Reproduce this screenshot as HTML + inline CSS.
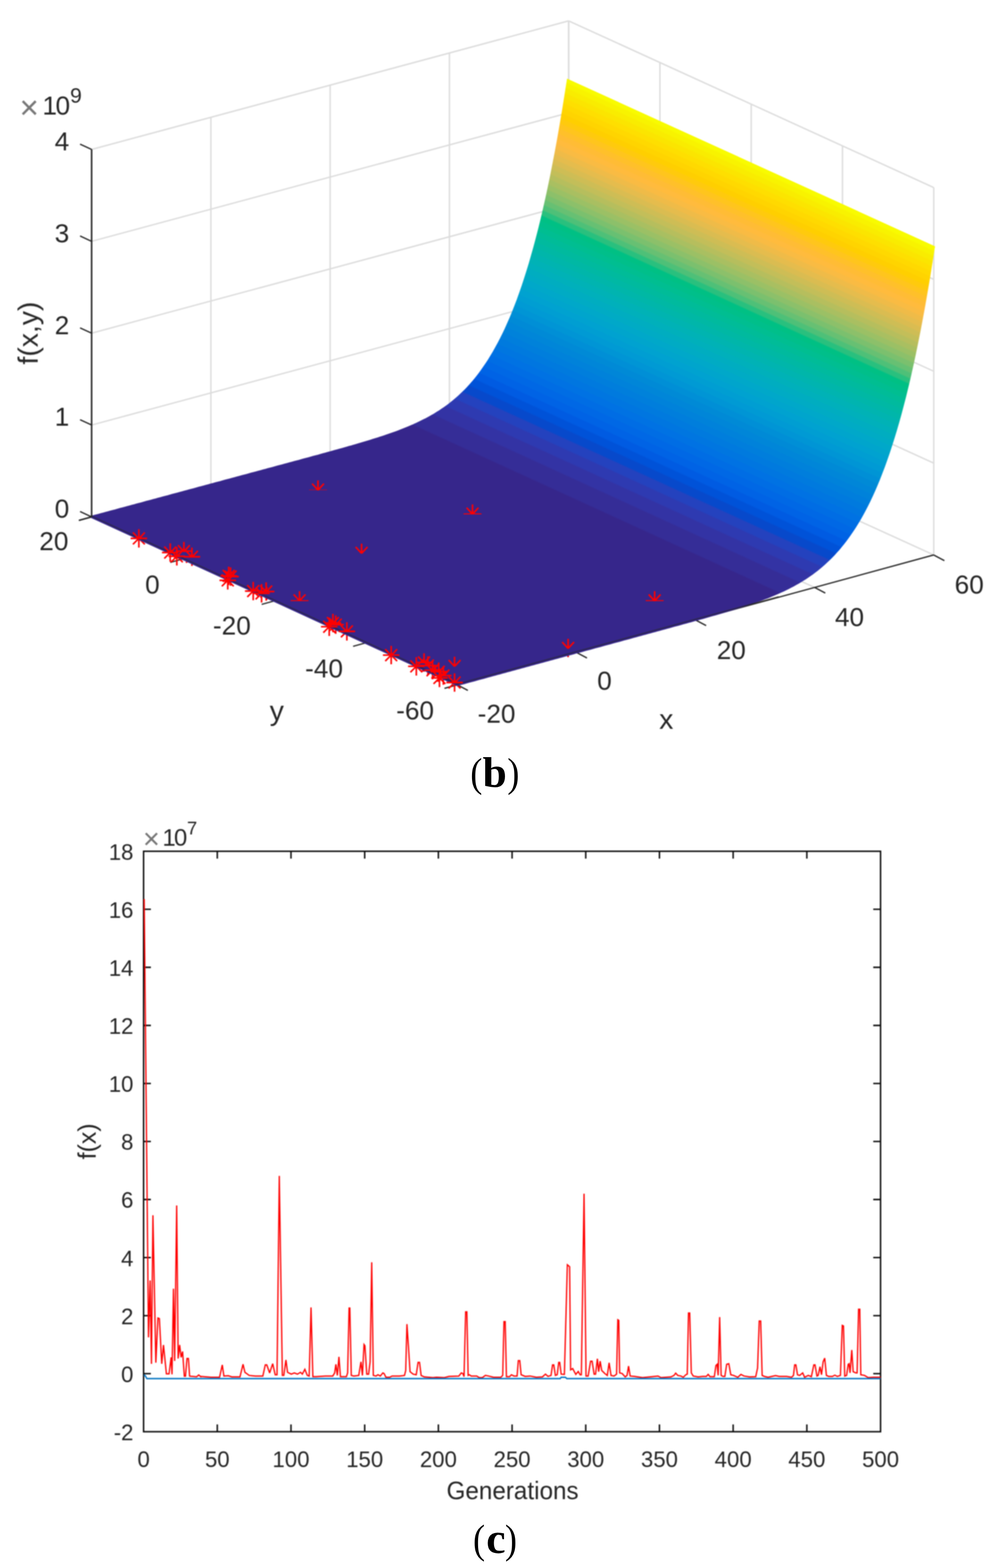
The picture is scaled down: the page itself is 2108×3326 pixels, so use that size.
<!DOCTYPE html>
<html lang="en">
<head>
<meta charset="utf-8">
<title>Figure (b), (c)</title>
<style>
html,body{margin:0;padding:0;background:#fff;}
body{width:2108px;height:3326px;overflow:hidden;}
svg{display:block;}
</style>
</head>
<body>
<svg width="2108" height="3326" viewBox="0 0 2108 3326">
<rect width="2108" height="3326" fill="#ffffff"/>
<defs><filter id="bl" x="0" y="0" width="2108" height="3326" filterUnits="userSpaceOnUse" color-interpolation-filters="sRGB"><feGaussianBlur stdDeviation="1.05"/></filter></defs>
<g id="plot3d" filter="url(#bl)">
<defs><linearGradient id="sg" gradientUnits="userSpaceOnUse" x1="191.80" y1="1101.86" x2="722.82" y2="-57.54">
<stop offset="0" stop-color="#36268b"/>
<stop offset="0.36539" stop-color="#36268b"/>
<stop offset="0.36774" stop-color="#352d97"/>
<stop offset="0.39486" stop-color="#352d97"/>
<stop offset="0.39721" stop-color="#3333a4"/>
<stop offset="0.41614" stop-color="#3333a4"/>
<stop offset="0.41849" stop-color="#2e3ab1"/>
<stop offset="0.43385" stop-color="#2e3ab1"/>
<stop offset="0.43620" stop-color="#2442be"/>
<stop offset="0.44951" stop-color="#2442be"/>
<stop offset="0.45186" stop-color="#0749cb"/>
<stop offset="0.46383" stop-color="#0749cb"/>
<stop offset="0.46618" stop-color="#0052d8"/>
<stop offset="0.47721" stop-color="#0052d8"/>
<stop offset="0.47957" stop-color="#005be2"/>
<stop offset="0.48989" stop-color="#005be2"/>
<stop offset="0.49224" stop-color="#0063e5"/>
<stop offset="0.50201" stop-color="#0063e5"/>
<stop offset="0.50436" stop-color="#0068e5"/>
<stop offset="0.51369" stop-color="#0068e5"/>
<stop offset="0.51605" stop-color="#006de4"/>
<stop offset="0.52501" stop-color="#006de4"/>
<stop offset="0.52737" stop-color="#0072e3"/>
<stop offset="0.53603" stop-color="#0072e3"/>
<stop offset="0.53839" stop-color="#0076e0"/>
<stop offset="0.54679" stop-color="#0076e0"/>
<stop offset="0.54915" stop-color="#007ade"/>
<stop offset="0.55733" stop-color="#007ade"/>
<stop offset="0.55969" stop-color="#007edc"/>
<stop offset="0.56768" stop-color="#007edc"/>
<stop offset="0.57003" stop-color="#0082da"/>
<stop offset="0.57786" stop-color="#0082da"/>
<stop offset="0.58021" stop-color="#0086d8"/>
<stop offset="0.58788" stop-color="#0086d8"/>
<stop offset="0.59024" stop-color="#008ad6"/>
<stop offset="0.59778" stop-color="#008ad6"/>
<stop offset="0.60013" stop-color="#008fd6"/>
<stop offset="0.60755" stop-color="#008fd6"/>
<stop offset="0.60990" stop-color="#0095d5"/>
<stop offset="0.61721" stop-color="#0095d5"/>
<stop offset="0.61957" stop-color="#009ad4"/>
<stop offset="0.62678" stop-color="#009ad4"/>
<stop offset="0.62913" stop-color="#009ed2"/>
<stop offset="0.63625" stop-color="#009ed2"/>
<stop offset="0.63860" stop-color="#00a2d0"/>
<stop offset="0.64564" stop-color="#00a2d0"/>
<stop offset="0.64799" stop-color="#00a5cc"/>
<stop offset="0.65495" stop-color="#00a5cc"/>
<stop offset="0.65731" stop-color="#00a8c9"/>
<stop offset="0.66420" stop-color="#00a8c9"/>
<stop offset="0.66655" stop-color="#00abc4"/>
<stop offset="0.67338" stop-color="#00abc4"/>
<stop offset="0.67573" stop-color="#00adc0"/>
<stop offset="0.68249" stop-color="#00adc0"/>
<stop offset="0.68485" stop-color="#00b0bb"/>
<stop offset="0.69156" stop-color="#00b0bb"/>
<stop offset="0.69391" stop-color="#00b2b6"/>
<stop offset="0.70056" stop-color="#00b2b6"/>
<stop offset="0.70292" stop-color="#00b4b0"/>
<stop offset="0.70952" stop-color="#00b4b0"/>
<stop offset="0.71187" stop-color="#00b6aa"/>
<stop offset="0.71843" stop-color="#00b6aa"/>
<stop offset="0.72079" stop-color="#00b8a4"/>
<stop offset="0.72730" stop-color="#00b8a4"/>
<stop offset="0.72965" stop-color="#00ba9e"/>
<stop offset="0.73613" stop-color="#00ba9e"/>
<stop offset="0.73848" stop-color="#00bc98"/>
<stop offset="0.74492" stop-color="#00bc98"/>
<stop offset="0.74727" stop-color="#00be91"/>
<stop offset="0.75367" stop-color="#00be91"/>
<stop offset="0.75602" stop-color="#00bf8a"/>
<stop offset="0.76238" stop-color="#00bf8a"/>
<stop offset="0.76474" stop-color="#00c084"/>
<stop offset="0.77107" stop-color="#00c084"/>
<stop offset="0.77342" stop-color="#29c07e"/>
<stop offset="0.77972" stop-color="#29c07e"/>
<stop offset="0.78207" stop-color="#4ec078"/>
<stop offset="0.78834" stop-color="#4ec078"/>
<stop offset="0.79069" stop-color="#67c073"/>
<stop offset="0.79693" stop-color="#67c073"/>
<stop offset="0.79929" stop-color="#7bc06e"/>
<stop offset="0.80550" stop-color="#7bc06e"/>
<stop offset="0.80785" stop-color="#8cc06a"/>
<stop offset="0.81404" stop-color="#8cc06a"/>
<stop offset="0.81639" stop-color="#9bc065"/>
<stop offset="0.82255" stop-color="#9bc065"/>
<stop offset="0.82491" stop-color="#a9bf61"/>
<stop offset="0.83105" stop-color="#a9bf61"/>
<stop offset="0.83340" stop-color="#b6be5d"/>
<stop offset="0.83951" stop-color="#b6be5d"/>
<stop offset="0.84187" stop-color="#c3be59"/>
<stop offset="0.84796" stop-color="#c3be59"/>
<stop offset="0.85031" stop-color="#cebd55"/>
<stop offset="0.85639" stop-color="#cebd55"/>
<stop offset="0.85874" stop-color="#dabc51"/>
<stop offset="0.86479" stop-color="#dabc51"/>
<stop offset="0.86714" stop-color="#e5bc4d"/>
<stop offset="0.87318" stop-color="#e5bc4d"/>
<stop offset="0.87553" stop-color="#efbb48"/>
<stop offset="0.88155" stop-color="#efbb48"/>
<stop offset="0.88390" stop-color="#f9bb43"/>
<stop offset="0.88990" stop-color="#f9bb43"/>
<stop offset="0.89225" stop-color="#ffbb3d"/>
<stop offset="0.89823" stop-color="#ffbb3d"/>
<stop offset="0.90058" stop-color="#ffbc35"/>
<stop offset="0.90654" stop-color="#ffbc35"/>
<stop offset="0.90890" stop-color="#ffc02a"/>
<stop offset="0.91484" stop-color="#ffc02a"/>
<stop offset="0.91720" stop-color="#ffc51d"/>
<stop offset="0.92313" stop-color="#ffc51d"/>
<stop offset="0.92548" stop-color="#ffca0d"/>
<stop offset="0.93140" stop-color="#ffca0d"/>
<stop offset="0.93375" stop-color="#ffcf00"/>
<stop offset="0.93965" stop-color="#ffcf00"/>
<stop offset="0.94200" stop-color="#ffd400"/>
<stop offset="0.94789" stop-color="#ffd400"/>
<stop offset="0.95024" stop-color="#ffd900"/>
<stop offset="0.95612" stop-color="#ffd900"/>
<stop offset="0.95847" stop-color="#fedf00"/>
<stop offset="0.96433" stop-color="#fedf00"/>
<stop offset="0.96668" stop-color="#fbe500"/>
<stop offset="0.97253" stop-color="#fbe500"/>
<stop offset="0.97488" stop-color="#f9ec00"/>
<stop offset="0.98072" stop-color="#f9ec00"/>
<stop offset="0.98307" stop-color="#f8f300"/>
<stop offset="0.98890" stop-color="#f8f300"/>
<stop offset="0.99125" stop-color="#f8fb00"/>
<stop offset="1" stop-color="#f8fb00"/>
</linearGradient></defs>
<g id="walls" fill="none" stroke="#dcdcdc" stroke-width="3.0" stroke-linecap="butt">
<line x1="447.2" y1="1028.2" x2="447.2" y2="248.8" stroke="#dcdcdc" stroke-width="3.0" />
<line x1="700.1" y1="960.1" x2="700.1" y2="180.7" stroke="#dcdcdc" stroke-width="3.0" />
<line x1="953.1" y1="891.9" x2="953.1" y2="112.5" stroke="#dcdcdc" stroke-width="3.0" />
<line x1="1206.0" y1="823.7" x2="1206.0" y2="44.3" stroke="#dcdcdc" stroke-width="3.0" />
<line x1="1206.0" y1="823.7" x2="1206.0" y2="44.3" stroke="#dcdcdc" stroke-width="3.0" />
<line x1="194.3" y1="901.6" x2="1206.0" y2="628.9" stroke="#dcdcdc" stroke-width="3.0" />
<line x1="1206.0" y1="628.9" x2="1980.2" y2="982.4" stroke="#dcdcdc" stroke-width="3.0" />
<line x1="194.3" y1="706.7" x2="1206.0" y2="434.0" stroke="#dcdcdc" stroke-width="3.0" />
<line x1="1206.0" y1="434.0" x2="1980.2" y2="787.5" stroke="#dcdcdc" stroke-width="3.0" />
<line x1="194.3" y1="511.9" x2="1206.0" y2="239.2" stroke="#dcdcdc" stroke-width="3.0" />
<line x1="1206.0" y1="239.2" x2="1980.2" y2="592.7" stroke="#dcdcdc" stroke-width="3.0" />
<line x1="194.3" y1="317.0" x2="1206.0" y2="44.3" stroke="#dcdcdc" stroke-width="3.0" />
<line x1="1206.0" y1="44.3" x2="1980.2" y2="397.8" stroke="#dcdcdc" stroke-width="3.0" />
<line x1="1399.5" y1="912.1" x2="1399.5" y2="132.7" stroke="#dcdcdc" stroke-width="3.0" />
<line x1="1593.1" y1="1000.5" x2="1593.1" y2="221.1" stroke="#dcdcdc" stroke-width="3.0" />
<line x1="1786.7" y1="1088.8" x2="1786.7" y2="309.4" stroke="#dcdcdc" stroke-width="3.0" />
<line x1="1980.2" y1="1177.2" x2="1980.2" y2="397.8" stroke="#dcdcdc" stroke-width="3.0" />
<line x1="1206.0" y1="823.7" x2="1980.2" y2="1177.2" stroke="#dcdcdc" stroke-width="3.0" />
<line x1="194.3" y1="1096.4" x2="1206.0" y2="823.7" stroke="#dcdcdc" stroke-width="3.0" />
<line x1="447.2" y1="1028.2" x2="1222.2" y2="1383.7" stroke="#dcdcdc" stroke-width="3.0" />
<line x1="700.1" y1="960.1" x2="1474.9" y2="1314.9" stroke="#dcdcdc" stroke-width="3.0" />
<line x1="953.1" y1="891.9" x2="1727.6" y2="1246.1" stroke="#dcdcdc" stroke-width="3.0" />
<line x1="388.1" y1="1185.5" x2="1399.5" y2="912.1" stroke="#dcdcdc" stroke-width="3.0" />
<line x1="582.0" y1="1274.5" x2="1593.1" y2="1000.5" stroke="#dcdcdc" stroke-width="3.0" />
<line x1="775.8" y1="1363.5" x2="1786.7" y2="1088.8" stroke="#dcdcdc" stroke-width="3.0" />
</g>
<g id="axes3d" stroke="#262626" stroke-width="2.8" fill="none" stroke-linecap="butt">
<line x1="194.3" y1="1096.4" x2="969.6" y2="1452.6" stroke="#262626" stroke-width="2.8" />
<line x1="969.6" y1="1452.6" x2="1980.2" y2="1177.2" stroke="#262626" stroke-width="2.8" />
<line x1="194.3" y1="1096.4" x2="167.3" y2="1103.9" stroke="#262626" stroke-width="2.8" />
<line x1="388.1" y1="1185.5" x2="361.1" y2="1193.0" stroke="#262626" stroke-width="2.8" />
<line x1="582.0" y1="1274.5" x2="555.0" y2="1282.0" stroke="#262626" stroke-width="2.8" />
<line x1="775.8" y1="1363.5" x2="748.8" y2="1371.0" stroke="#262626" stroke-width="2.8" />
<line x1="969.6" y1="1452.6" x2="942.6" y2="1460.1" stroke="#262626" stroke-width="2.8" />
<line x1="969.6" y1="1452.6" x2="992.2" y2="1464.6" stroke="#262626" stroke-width="2.8" />
<line x1="1222.2" y1="1383.7" x2="1244.8" y2="1395.7" stroke="#262626" stroke-width="2.8" />
<line x1="1474.9" y1="1314.9" x2="1497.5" y2="1326.9" stroke="#262626" stroke-width="2.8" />
<line x1="1727.6" y1="1246.1" x2="1750.2" y2="1258.1" stroke="#262626" stroke-width="2.8" />
<line x1="1980.2" y1="1177.2" x2="2002.8" y2="1189.2" stroke="#262626" stroke-width="2.8" />
</g>
<path id="mk-low" d="M294.5 1142.0L294.5 1161.5M294.5 1142.0L281.9 1154.6M294.5 1142.0L307.1 1154.6M361.0 1172.0L361.0 1191.5M361.0 1172.0L348.4 1184.6M361.0 1172.0L373.6 1184.6M375.0 1180.0L375.0 1199.5M375.0 1180.0L362.4 1192.6M375.0 1180.0L387.6 1192.6M390.0 1169.0L390.0 1188.5M390.0 1169.0L377.4 1181.6M390.0 1169.0L402.6 1181.6M407.0 1181.0L407.0 1200.5M407.0 1181.0L394.4 1193.6M407.0 1181.0L419.6 1193.6M485.0 1221.5L485.0 1241.0M485.0 1221.5L472.4 1234.1M485.0 1221.5L497.6 1234.1M489.0 1223.0L489.0 1242.5M489.0 1223.0L476.4 1235.6M489.0 1223.0L501.6 1235.6M483.0 1231.0L483.0 1250.5M483.0 1231.0L470.4 1243.6M483.0 1231.0L495.6 1243.6M537.0 1253.7L537.0 1273.2M537.0 1253.7L524.4 1266.3M537.0 1253.7L549.6 1266.3M554.7 1258.6L554.7 1278.1M554.7 1258.6L542.1 1271.2M554.7 1258.6L567.3 1271.2M564.5 1254.7L564.5 1274.2M564.5 1254.7L551.9 1267.3M564.5 1254.7L577.1 1267.3M698.2 1329.4L698.2 1348.9M698.2 1329.4L685.6 1342.0M698.2 1329.4L710.8 1342.0M706.0 1321.5L706.0 1341.0M706.0 1321.5L693.4 1334.1M706.0 1321.5L718.6 1334.1M712.0 1325.0L712.0 1344.5M712.0 1325.0L699.4 1337.6M712.0 1325.0L724.6 1337.6M735.6 1339.2L735.6 1358.7M735.6 1339.2L723.0 1351.8M735.6 1339.2L748.2 1351.8M829.6 1389.6L829.6 1409.1M829.6 1389.6L817.0 1402.2M829.6 1389.6L842.2 1402.2M882.9 1413.4L882.9 1432.9M882.9 1413.4L870.3 1426.0M882.9 1413.4L895.5 1426.0M899.3 1405.2L899.3 1424.7M899.3 1405.2L886.7 1417.8M899.3 1405.2L911.9 1417.8M907.4 1411.7L907.4 1431.2M907.4 1411.7L894.8 1424.3M907.4 1411.7L920.0 1424.3M917.3 1421.6L917.3 1441.1M917.3 1421.6L904.7 1434.2M917.3 1421.6L929.9 1434.2M930.4 1424.8L930.4 1444.3M930.4 1424.8L917.8 1437.4M930.4 1424.8L943.0 1437.4M932.0 1438.0L932.0 1457.5M932.0 1438.0L919.4 1450.6M932.0 1438.0L944.6 1450.6M940.2 1433.0L940.2 1452.5M940.2 1433.0L927.6 1445.6M940.2 1433.0L952.8 1445.6M964.0 1447.8L964.0 1467.3M964.0 1447.8L951.4 1460.4M964.0 1447.8L976.6 1460.4M674.4 1038.5L674.4 1058.0M674.4 1038.5L661.8 1051.1M674.4 1038.5L687.0 1051.1M1002.1 1089.5L1002.1 1109.0M1002.1 1089.5L989.5 1102.1M1002.1 1089.5L1014.7 1102.1M766.8 1172.8L766.8 1192.3M766.8 1172.8L754.2 1185.4M766.8 1172.8L779.4 1185.4M635.3 1273.4L635.3 1292.9M635.3 1273.4L622.7 1286.0M635.3 1273.4L647.9 1286.0M1388.3 1273.6L1388.3 1293.1M1388.3 1273.6L1375.7 1286.2M1388.3 1273.6L1400.9 1286.2M1204.8 1374.5L1204.8 1394.0M1204.8 1374.5L1192.2 1387.1M1204.8 1374.5L1217.4 1387.1M964.0 1412.6L964.0 1432.1M964.0 1412.6L951.4 1425.2M964.0 1412.6L976.6 1425.2" stroke="#ff0000" stroke-width="3.4" fill="none"/>
<polygon id="surface" points="194.3,1096.4 199.4,1095.0 204.4,1093.7 209.5,1092.3 214.5,1090.9 219.6,1089.6 224.7,1088.2 229.7,1086.9 234.8,1085.5 239.8,1084.1 244.9,1082.8 249.9,1081.4 255.0,1080.0 260.1,1078.7 265.1,1077.3 270.2,1075.9 275.2,1074.6 280.3,1073.2 285.4,1071.9 290.4,1070.5 295.5,1069.1 300.5,1067.8 305.6,1066.4 310.6,1065.0 315.7,1063.7 320.8,1062.3 325.8,1060.9 330.9,1059.6 335.9,1058.2 341.0,1056.9 346.1,1055.5 351.1,1054.1 356.2,1052.8 361.2,1051.4 366.3,1050.0 371.3,1048.7 376.4,1047.3 381.5,1046.0 386.5,1044.6 391.6,1043.2 396.6,1041.9 401.7,1040.5 406.8,1039.1 411.8,1037.8 416.9,1036.4 421.9,1035.0 427.0,1033.7 432.0,1032.3 437.1,1031.0 442.2,1029.6 447.2,1028.2 452.3,1026.9 457.3,1025.5 462.4,1024.1 467.5,1022.8 472.5,1021.4 477.6,1020.0 482.6,1018.7 487.7,1017.3 492.8,1016.0 497.8,1014.6 502.9,1013.2 507.9,1011.9 513.0,1010.5 518.0,1009.1 523.1,1007.8 528.2,1006.4 533.2,1005.0 538.3,1003.7 543.3,1002.3 548.4,1001.0 553.5,999.6 558.5,998.2 563.6,996.9 568.6,995.5 573.7,994.1 578.7,992.8 583.8,991.4 588.9,990.0 593.9,988.7 599.0,987.3 604.0,986.0 609.1,984.6 614.2,983.2 619.2,981.9 624.3,980.5 629.3,979.1 634.4,977.8 639.4,976.4 644.5,975.0 649.6,973.6 654.6,972.3 659.7,970.9 664.7,969.5 669.8,968.1 674.9,966.8 679.9,965.4 685.0,964.0 690.0,962.6 695.1,961.2 700.1,959.8 705.2,958.4 710.3,957.0 715.3,955.6 720.4,954.2 725.4,952.8 730.5,951.4 735.6,950.0 740.6,948.5 745.7,947.1 750.7,945.6 755.8,944.2 760.8,942.7 765.9,941.2 770.9,939.7 776.0,938.2 781.1,936.6 786.1,935.1 791.2,933.5 796.2,931.9 801.3,930.3 806.3,928.7 811.4,927.0 816.4,925.4 821.5,923.6 826.5,921.9 831.6,920.1 836.7,918.3 841.7,916.5 846.8,914.6 851.8,912.6 856.9,910.6 861.9,908.6 866.9,906.5 872.0,904.4 877.0,902.2 882.1,899.9 887.1,897.5 892.2,895.1 897.2,892.6 902.3,890.1 907.3,887.4 912.3,884.6 917.4,881.8 922.4,878.8 927.4,875.7 932.5,872.5 937.5,869.2 942.5,865.8 947.5,862.2 952.6,858.4 957.6,854.5 962.6,850.5 967.6,846.2 972.6,841.8 977.6,837.2 982.6,832.4 987.6,827.4 992.6,822.2 997.6,816.7 1002.6,811.0 1007.6,805.0 1012.6,798.7 1017.6,792.2 1022.5,785.4 1027.5,778.2 1032.5,770.8 1037.6,763.0 1042.6,754.8 1047.7,746.3 1052.7,737.3 1057.8,728.0 1062.9,718.2 1067.9,708.0 1073.0,697.3 1078.0,686.1 1083.1,674.4 1088.2,662.2 1093.2,649.4 1098.3,636.1 1103.3,622.1 1108.4,607.5 1113.4,592.3 1118.5,576.3 1123.6,559.7 1128.6,542.3 1133.7,524.2 1138.7,505.3 1143.8,485.5 1148.9,464.9 1153.9,443.3 1159.0,420.9 1164.0,397.4 1169.1,373.0 1174.1,347.5 1179.2,320.9 1184.3,293.2 1189.3,264.4 1194.4,234.3 1199.4,203.0 1204.5,170.4 1980.2,523.9 1975.1,556.5 1970.1,587.8 1965.0,617.9 1960.0,646.8 1954.9,674.5 1949.9,701.1 1944.8,726.6 1939.8,751.0 1934.7,774.5 1929.7,797.0 1924.6,818.5 1919.6,839.2 1914.5,858.9 1909.5,877.9 1904.4,896.0 1899.4,913.4 1894.3,930.1 1889.2,946.0 1884.2,961.3 1879.1,975.9 1874.1,989.8 1869.0,1003.2 1864.0,1016.0 1858.9,1028.2 1853.9,1039.9 1848.8,1051.1 1843.8,1061.8 1838.7,1072.1 1833.7,1081.9 1828.6,1091.2 1823.6,1100.2 1818.5,1108.7 1813.5,1116.9 1808.4,1124.7 1803.3,1132.2 1798.3,1139.4 1793.2,1146.2 1788.2,1152.8 1783.1,1159.0 1778.1,1165.0 1773.0,1170.7 1768.0,1176.2 1762.9,1181.5 1757.9,1186.5 1752.8,1191.3 1747.8,1196.0 1742.7,1200.4 1737.7,1204.6 1732.6,1208.7 1727.6,1212.6 1722.5,1216.4 1717.4,1220.0 1712.4,1223.4 1707.3,1226.8 1702.3,1230.0 1697.2,1233.1 1692.2,1236.0 1687.1,1238.9 1682.1,1241.7 1677.0,1244.4 1672.0,1247.0 1666.9,1249.5 1661.9,1251.9 1656.8,1254.3 1651.8,1256.5 1646.7,1258.8 1641.6,1260.9 1636.6,1263.0 1631.5,1265.1 1626.5,1267.1 1621.4,1269.0 1616.4,1270.9 1611.3,1272.8 1606.3,1274.6 1601.2,1276.4 1596.2,1278.2 1591.1,1279.9 1586.1,1281.6 1581.0,1283.3 1576.0,1284.9 1570.9,1286.5 1565.9,1288.1 1560.8,1289.7 1555.7,1291.3 1550.7,1292.8 1545.6,1294.4 1540.6,1295.9 1535.5,1297.4 1530.5,1298.9 1525.4,1300.3 1520.4,1301.8 1515.3,1303.3 1510.3,1304.7 1505.2,1306.2 1500.2,1307.6 1495.1,1309.0 1490.1,1310.5 1485.0,1311.9 1480.0,1313.3 1474.9,1314.7 1469.8,1316.1 1464.8,1317.5 1459.7,1318.9 1454.7,1320.3 1449.6,1321.7 1444.6,1323.1 1439.5,1324.5 1434.5,1325.9 1429.4,1327.2 1424.4,1328.6 1419.3,1330.0 1414.3,1331.4 1409.2,1332.8 1404.2,1334.2 1399.1,1335.5 1394.1,1336.9 1389.0,1338.3 1383.9,1339.7 1378.9,1341.1 1373.8,1342.4 1368.8,1343.8 1363.7,1345.2 1358.7,1346.6 1353.6,1347.9 1348.6,1349.3 1343.5,1350.7 1338.5,1352.1 1333.4,1353.5 1328.4,1354.8 1323.3,1356.2 1318.3,1357.6 1313.2,1359.0 1308.2,1360.3 1303.1,1361.7 1298.0,1363.1 1293.0,1364.5 1287.9,1365.8 1282.9,1367.2 1277.8,1368.6 1272.8,1370.0 1267.7,1371.4 1262.7,1372.7 1257.6,1374.1 1252.6,1375.5 1247.5,1376.9 1242.5,1378.2 1237.4,1379.6 1232.4,1381.0 1227.3,1382.4 1222.2,1383.7 1217.2,1385.1 1212.1,1386.5 1207.1,1387.9 1202.0,1389.3 1197.0,1390.6 1191.9,1392.0 1186.9,1393.4 1181.8,1394.8 1176.8,1396.1 1171.7,1397.5 1166.7,1398.9 1161.6,1400.3 1156.6,1401.7 1151.5,1403.0 1146.5,1404.4 1141.4,1405.8 1136.3,1407.2 1131.3,1408.5 1126.2,1409.9 1121.2,1411.3 1116.1,1412.7 1111.1,1414.0 1106.0,1415.4 1101.0,1416.8 1095.9,1418.2 1090.9,1419.6 1085.8,1420.9 1080.8,1422.3 1075.7,1423.7 1070.7,1425.1 1065.6,1426.4 1060.6,1427.8 1055.5,1429.2 1050.4,1430.6 1045.4,1431.9 1040.3,1433.3 1035.3,1434.7 1030.2,1436.1 1025.2,1437.5 1020.1,1438.8 1015.1,1440.2 1010.0,1441.6 1005.0,1443.0 999.9,1444.3 994.9,1445.7 989.8,1447.1 984.8,1448.5 979.7,1449.8 974.7,1451.2 969.6,1452.6" fill="url(#sg)" stroke="url(#sg)" stroke-width="5" stroke-linejoin="miter" stroke-miterlimit="2.2"/>
<g id="edge-axes" stroke="#262626" stroke-width="2.4" stroke-opacity="0.6" fill="none">
<line x1="194.9" y1="1095.1" x2="970.2" y2="1451.3" stroke="#262626" stroke-width="2.4" />
<line x1="969.2" y1="1451.2" x2="1651.4" y2="1265.4" stroke="#262626" stroke-width="2.4" />
</g>
<g id="zaxis" stroke="#262626" stroke-width="2.8" fill="none" stroke-linecap="butt">
<line x1="194.3" y1="1096.4" x2="194.3" y2="317.0" stroke="#262626" stroke-width="3.3" />
<line x1="194.3" y1="1096.4" x2="169.8" y2="1085.1" stroke="#262626" stroke-width="2.8" />
<line x1="194.3" y1="901.6" x2="169.8" y2="890.3" stroke="#262626" stroke-width="2.8" />
<line x1="194.3" y1="706.7" x2="169.8" y2="695.4" stroke="#262626" stroke-width="2.8" />
<line x1="194.3" y1="511.9" x2="169.8" y2="500.6" stroke="#262626" stroke-width="2.8" />
<line x1="194.3" y1="317.0" x2="169.8" y2="305.7" stroke="#262626" stroke-width="2.8" />
<line x1="194.3" y1="1096.4" x2="167.3" y2="1103.9" stroke="#262626" stroke-width="2.8" />
</g>
<path id="mk-up" d="M294.5 1143.0L294.5 1122.5M294.5 1143.0L281.9 1129.4M294.5 1143.0L307.1 1129.4M277.0 1142.0L312.0 1142.0M361.0 1173.0L361.0 1152.5M361.0 1173.0L348.4 1159.4M361.0 1173.0L373.6 1159.4M343.5 1172.0L378.5 1172.0M375.0 1181.0L375.0 1160.5M375.0 1181.0L362.4 1167.4M375.0 1181.0L387.6 1167.4M357.5 1180.0L392.5 1180.0M390.0 1170.0L390.0 1149.5M390.0 1170.0L377.4 1156.4M390.0 1170.0L402.6 1156.4M372.5 1169.0L407.5 1169.0M407.0 1182.0L407.0 1161.5M407.0 1182.0L394.4 1168.4M407.0 1182.0L419.6 1168.4M389.5 1181.0L424.5 1181.0M485.0 1222.5L485.0 1202.0M485.0 1222.5L472.4 1208.9M485.0 1222.5L497.6 1208.9M467.5 1221.5L502.5 1221.5M489.0 1224.0L489.0 1203.5M489.0 1224.0L476.4 1210.4M489.0 1224.0L501.6 1210.4M471.5 1223.0L506.5 1223.0M483.0 1232.0L483.0 1211.5M483.0 1232.0L470.4 1218.4M483.0 1232.0L495.6 1218.4M465.5 1231.0L500.5 1231.0M537.0 1254.7L537.0 1234.2M537.0 1254.7L524.4 1241.1M537.0 1254.7L549.6 1241.1M519.5 1253.7L554.5 1253.7M554.7 1259.6L554.7 1239.1M554.7 1259.6L542.1 1246.0M554.7 1259.6L567.3 1246.0M537.2 1258.6L572.2 1258.6M564.5 1255.7L564.5 1235.2M564.5 1255.7L551.9 1242.1M564.5 1255.7L577.1 1242.1M547.0 1254.7L582.0 1254.7M698.2 1330.4L698.2 1309.9M698.2 1330.4L685.6 1316.8M698.2 1330.4L710.8 1316.8M680.7 1329.4L715.7 1329.4M706.0 1322.5L706.0 1302.0M706.0 1322.5L693.4 1308.9M706.0 1322.5L718.6 1308.9M688.5 1321.5L723.5 1321.5M712.0 1326.0L712.0 1305.5M712.0 1326.0L699.4 1312.4M712.0 1326.0L724.6 1312.4M694.5 1325.0L729.5 1325.0M735.6 1340.2L735.6 1319.7M735.6 1340.2L723.0 1326.6M735.6 1340.2L748.2 1326.6M718.1 1339.2L753.1 1339.2M829.6 1390.6L829.6 1370.1M829.6 1390.6L817.0 1377.0M829.6 1390.6L842.2 1377.0M812.1 1389.6L847.1 1389.6M882.9 1414.4L882.9 1393.9M882.9 1414.4L870.3 1400.8M882.9 1414.4L895.5 1400.8M865.4 1413.4L900.4 1413.4M899.3 1406.2L899.3 1385.7M899.3 1406.2L886.7 1392.6M899.3 1406.2L911.9 1392.6M881.8 1405.2L916.8 1405.2M907.4 1412.7L907.4 1392.2M907.4 1412.7L894.8 1399.1M907.4 1412.7L920.0 1399.1M889.9 1411.7L924.9 1411.7M917.3 1422.6L917.3 1402.1M917.3 1422.6L904.7 1409.0M917.3 1422.6L929.9 1409.0M899.8 1421.6L934.8 1421.6M930.4 1425.8L930.4 1405.3M930.4 1425.8L917.8 1412.2M930.4 1425.8L943.0 1412.2M912.9 1424.8L947.9 1424.8M932.0 1439.0L932.0 1418.5M932.0 1439.0L919.4 1425.4M932.0 1439.0L944.6 1425.4M914.5 1438.0L949.5 1438.0M940.2 1434.0L940.2 1413.5M940.2 1434.0L927.6 1420.4M940.2 1434.0L952.8 1420.4M922.7 1433.0L957.7 1433.0M964.0 1448.8L964.0 1428.3M964.0 1448.8L951.4 1435.2M964.0 1448.8L976.6 1435.2M946.5 1447.8L981.5 1447.8M674.4 1039.5L674.4 1019.0M674.4 1039.5L661.8 1025.9M674.4 1039.5L687.0 1025.9M1002.1 1090.5L1002.1 1070.0M1002.1 1090.5L989.5 1076.9M1002.1 1090.5L1014.7 1076.9M766.8 1173.8L766.8 1153.3M766.8 1173.8L754.2 1160.2M766.8 1173.8L779.4 1160.2M635.3 1274.4L635.3 1253.9M635.3 1274.4L622.7 1260.8M635.3 1274.4L647.9 1260.8M1388.3 1274.6L1388.3 1254.1M1388.3 1274.6L1375.7 1261.0M1388.3 1274.6L1400.9 1261.0M1204.8 1375.5L1204.8 1355.0M1204.8 1375.5L1192.2 1361.9M1204.8 1375.5L1217.4 1361.9M964.0 1413.6L964.0 1393.1M964.0 1413.6L951.4 1400.0M964.0 1413.6L976.6 1400.0" stroke="#ff0000" stroke-width="3.4" fill="none"/>
<path id="mk-h" d="M983.1 1090.0L1021.1 1090.0M616.3 1273.9L654.3 1273.9M1369.3 1274.1L1407.3 1274.1" stroke="#ff0000" stroke-width="2" fill="none"/>
<path id="mk-hf" d="M655.4 1039.0L693.4 1039.0" stroke="#ff0000" stroke-width="2" stroke-opacity="0.45" fill="none"/>
<text x="146.8" y="1098.2" font-size="55.5" text-anchor="end" fill="#262626" font-family='"Liberation Sans", Arial, Helvetica, sans-serif' >0</text>
<text x="146.8" y="903.4" font-size="55.5" text-anchor="end" fill="#262626" font-family='"Liberation Sans", Arial, Helvetica, sans-serif' >1</text>
<text x="146.8" y="708.5" font-size="55.5" text-anchor="end" fill="#262626" font-family='"Liberation Sans", Arial, Helvetica, sans-serif' >2</text>
<text x="146.8" y="513.7" font-size="55.5" text-anchor="end" fill="#262626" font-family='"Liberation Sans", Arial, Helvetica, sans-serif' >3</text>
<text x="146.8" y="318.8" font-size="55.5" text-anchor="end" fill="#262626" font-family='"Liberation Sans", Arial, Helvetica, sans-serif' >4</text>
<text x="145.0" y="1167.3" font-size="55.5" text-anchor="end" fill="#262626" font-family='"Liberation Sans", Arial, Helvetica, sans-serif' >20</text>
<text x="338.6" y="1259.0" font-size="55.5" text-anchor="end" fill="#262626" font-family='"Liberation Sans", Arial, Helvetica, sans-serif' >0</text>
<text x="531.8" y="1346.0" font-size="55.5" text-anchor="end" fill="#262626" font-family='"Liberation Sans", Arial, Helvetica, sans-serif' >-20</text>
<text x="727.3" y="1436.5" font-size="55.5" text-anchor="end" fill="#262626" font-family='"Liberation Sans", Arial, Helvetica, sans-serif' >-40</text>
<text x="920.4" y="1525.9" font-size="55.5" text-anchor="end" fill="#262626" font-family='"Liberation Sans", Arial, Helvetica, sans-serif' >-60</text>
<text x="1013.0" y="1532.8" font-size="55.5" text-anchor="start" fill="#262626" font-family='"Liberation Sans", Arial, Helvetica, sans-serif' >-20</text>
<text x="1266.6" y="1462.6" font-size="55.5" text-anchor="start" fill="#262626" font-family='"Liberation Sans", Arial, Helvetica, sans-serif' >0</text>
<text x="1519.9" y="1397.5" font-size="55.5" text-anchor="start" fill="#262626" font-family='"Liberation Sans", Arial, Helvetica, sans-serif' >20</text>
<text x="1770.7" y="1328.4" font-size="55.5" text-anchor="start" fill="#262626" font-family='"Liberation Sans", Arial, Helvetica, sans-serif' >40</text>
<text x="2024.6" y="1259.3" font-size="55.5" text-anchor="start" fill="#262626" font-family='"Liberation Sans", Arial, Helvetica, sans-serif' >60</text>
<text font-family='"Liberation Sans", Arial, Helvetica, sans-serif'><tspan x="62.0" y="251.5" font-size="70" text-anchor="middle" fill="#777777" >×</tspan><tspan x="90.0" y="243.0" font-size="55.5" text-anchor="start" fill="#262626" letter-spacing="-3">10</tspan><tspan x="148.5" y="217.5" font-size="45" text-anchor="start" fill="#262626" letter-spacing="0">9</tspan></text>
<text x="1413.0" y="1546.0" font-size="60" text-anchor="middle" fill="#262626" font-family='"Liberation Sans", Arial, Helvetica, sans-serif' >x</text>
<text x="587.0" y="1528.0" font-size="60" text-anchor="middle" fill="#262626" font-family='"Liberation Sans", Arial, Helvetica, sans-serif' >y</text>
<text transform="translate(80 706.5) rotate(-90)" font-size="60" text-anchor="middle" fill="#262626" font-family='"Liberation Sans", Arial, Helvetica, sans-serif'>f(x,y)</text>
</g>
<text font-family='"Liberation Serif", "Times New Roman", serif'><tspan x="997.5" y="1667.6" font-size="86.5" text-anchor="start" fill="#000" textLength="25.35" lengthAdjust="spacingAndGlyphs">(</tspan><tspan x="1049.2" y="1668.8" font-size="92" text-anchor="middle" fill="#000" font-weight="bold">b</tspan><tspan x="1076.0" y="1667.6" font-size="86.5" text-anchor="start" fill="#000" font-weight="normal" textLength="25.35" lengthAdjust="spacingAndGlyphs">)</tspan></text>
<text font-family='"Liberation Serif", "Times New Roman", serif'><tspan x="1003.3" y="3294.2" font-size="86.5" text-anchor="start" fill="#000" textLength="25.35" lengthAdjust="spacingAndGlyphs">(</tspan><tspan x="1051.6" y="3293.8" font-size="92" text-anchor="middle" fill="#000" font-weight="bold">c</tspan><tspan x="1070.9" y="3294.2" font-size="86.5" text-anchor="start" fill="#000" font-weight="normal" textLength="25.35" lengthAdjust="spacingAndGlyphs">)</tspan></text>
<g id="plot2d" filter="url(#bl)">
<rect id="box2d" x="304.5" y="1805.7" width="1562.9" height="1231.2" fill="none" stroke="#0a0a0a" stroke-width="3.1"/>
<path id="ticks2d" d="M460.8 3036.9V3021.4M460.8 1805.7V1821.2M617.1 3036.9V3021.4M617.1 1805.7V1821.2M773.4 3036.9V3021.4M773.4 1805.7V1821.2M929.7 3036.9V3021.4M929.7 1805.7V1821.2M1086.0 3036.9V3021.4M1086.0 1805.7V1821.2M1242.2 3036.9V3021.4M1242.2 1805.7V1821.2M1398.5 3036.9V3021.4M1398.5 1805.7V1821.2M1554.8 3036.9V3021.4M1554.8 1805.7V1821.2M1711.1 3036.9V3021.4M1711.1 1805.7V1821.2M304.5 2913.8H320.0M1867.4 2913.8H1851.9M304.5 2790.7H320.0M1867.4 2790.7H1851.9M304.5 2667.5H320.0M1867.4 2667.5H1851.9M304.5 2544.4H320.0M1867.4 2544.4H1851.9M304.5 2421.3H320.0M1867.4 2421.3H1851.9M304.5 2298.2H320.0M1867.4 2298.2H1851.9M304.5 2175.1H320.0M1867.4 2175.1H1851.9M304.5 2051.9H320.0M1867.4 2051.9H1851.9M304.5 1928.8H320.0M1867.4 1928.8H1851.9" stroke="#0a0a0a" stroke-width="3.1" fill="none"/>
<polyline id="red" points="305.8,1907.0 314.9,2836.8 318.4,2716.0 321.2,2892.9 324.3,2577.7 330.5,2890.4 334.9,2795.7 338.0,2797.0 343.0,2892.9 346.7,2853.0 352.9,2914.1 358.5,2914.1 362.9,2879.2 364.8,2915.3 367.9,2733.4 370.4,2886.7 374.7,2557.1 377.8,2881.7 381.0,2853.0 384.1,2879.2 387.2,2866.7 390.9,2919.1 393.4,2919.1 396.5,2881.7 399.6,2881.7 402.1,2919.1 417.1,2920.3 421.4,2916.6 425.8,2920.3 426.3,2919.6 447.3,2921.4 465.6,2921.4 471.4,2895.2 474.8,2918.8 484.0,2918.2 491.8,2920.6 508.9,2920.6 515.4,2893.9 519.4,2910.9 528.5,2917.5 541.6,2918.8 557.4,2918.8 562.6,2895.2 565.8,2895.2 571.8,2912.2 578.3,2892.6 583.6,2916.1 587.5,2916.1 592.3,2494.3 598.8,2917.5 601.9,2917.5 606.4,2884.7 609.8,2910.9 617.7,2914.8 624.2,2912.2 630.8,2914.8 637.3,2910.9 641.2,2914.8 646.5,2904.4 651.7,2917.5 655.7,2918.8 659.6,2773.3 663.5,2920.1 670.1,2920.1 690.0,2918.8 705.7,2918.8 709.7,2912.2 712.3,2893.9 715.4,2917.5 718.8,2878.1 722.0,2920.1 734.6,2920.1 737.2,2912.2 740.3,2774.6 741.9,2774.6 745.0,2917.5 750.3,2918.8 760.8,2917.5 765.5,2888.6 768.6,2917.5 772.0,2851.9 773.9,2854.5 777.8,2914.8 781.7,2914.8 784.9,2888.6 788.3,2677.6 791.7,2917.5 797.5,2918.8 801.4,2916.1 806.6,2918.8 811.9,2912.2 814.5,2913.5 818.4,2921.4 826.3,2921.4 831.5,2918.8 847.3,2918.8 857.8,2917.5 860.4,2907.0 863.0,2808.7 866.1,2854.5 869.6,2909.6 876.1,2914.8 882.7,2916.1 886.6,2889.9 889.7,2889.9 893.1,2917.5 899.7,2920.6 918.0,2922.2 925.9,2921.4 941.6,2922.2 952.1,2919.6 973.1,2918.8 978.3,2912.2 981.5,2913.5 984.1,2920.1 987.5,2782.5 990.1,2782.5 992.8,2917.5 995.4,2916.1 999.3,2918.8 1011.1,2918.8 1016.3,2922.2 1022.9,2922.2 1029.4,2917.5 1036.0,2918.8 1046.5,2921.4 1062.2,2921.4 1066.1,2917.5 1068.8,2803.4 1071.4,2803.4 1074.0,2920.1 1080.6,2920.1 1084.5,2916.1 1090.0,2918.8 1096.6,2918.8 1099.2,2886.0 1102.3,2886.0 1105.2,2916.1 1113.6,2919.6 1124.1,2918.8 1137.2,2921.4 1150.3,2920.6 1156.8,2914.8 1162.1,2919.6 1168.6,2917.5 1171.8,2895.2 1174.4,2895.2 1177.8,2917.5 1181.7,2916.1 1184.9,2889.9 1187.0,2889.9 1190.1,2914.8 1196.9,2915.4 1203.2,2682.9 1208.0,2686.8 1210.1,2905.7 1214.5,2903.0 1221.1,2915.4 1226.3,2909.1 1230.2,2916.1 1232.9,2916.1 1238.6,2532.1 1242.8,2918.8 1247.3,2918.8 1252.5,2887.3 1255.7,2887.3 1259.9,2914.8 1263.0,2914.8 1266.9,2882.1 1269.6,2909.6 1272.7,2887.3 1276.1,2907.0 1282.7,2913.5 1287.9,2917.5 1291.8,2890.7 1295.8,2917.5 1302.3,2918.8 1307.6,2914.8 1310.2,2799.5 1312.3,2800.8 1314.1,2912.2 1319.4,2913.5 1325.9,2920.6 1329.8,2917.5 1333.0,2897.8 1336.4,2918.8 1345.6,2919.6 1362.6,2922.2 1378.3,2920.6 1395.4,2918.8 1401.9,2922.2 1422.9,2920.6 1429.4,2917.5 1432.9,2912.7 1437.3,2917.5 1443.9,2918.8 1449.1,2921.4 1454.4,2916.1 1457.5,2914.8 1460.1,2785.1 1462.7,2785.1 1466.1,2912.2 1470.1,2918.8 1480.6,2920.6 1490.0,2919.6 1497.9,2919.6 1501.8,2915.4 1505.7,2920.1 1514.9,2920.1 1518.3,2896.5 1520.9,2893.9 1523.0,2917.5 1526.2,2793.7 1529.3,2917.5 1533.3,2919.6 1537.2,2919.6 1541.1,2893.9 1545.6,2892.6 1549.8,2916.1 1555.5,2917.5 1564.7,2921.4 1571.3,2915.4 1577.8,2918.8 1589.6,2920.6 1602.7,2920.1 1606.6,2901.7 1610.1,2802.1 1613.2,2802.1 1616.3,2917.5 1621.1,2919.6 1628.9,2921.4 1636.8,2919.6 1644.7,2918.0 1652.5,2919.6 1668.2,2919.6 1678.7,2921.4 1682.7,2917.5 1685.3,2895.2 1687.9,2895.2 1691.3,2916.1 1695.8,2917.5 1702.3,2912.2 1706.3,2921.4 1714.1,2917.5 1720.7,2920.1 1725.9,2895.2 1728.5,2895.2 1732.5,2918.8 1735.1,2917.5 1739.0,2899.1 1742.2,2916.1 1745.6,2888.6 1749.0,2880.8 1752.6,2917.5 1757.4,2919.6 1765.2,2919.6 1770.5,2916.9 1775.7,2919.6 1782.3,2917.5 1786.2,2811.3 1788.8,2812.6 1791.4,2918.8 1795.4,2917.5 1798.8,2893.9 1800.6,2892.6 1802.7,2912.2 1806.4,2863.7 1809.3,2909.6 1815.0,2912.2 1817.7,2912.2 1820.8,2777.2 1823.4,2777.2 1825.5,2916.1 1833.4,2917.5 1841.2,2922.2 1851.7,2921.4 1867.5,2921.4" fill="none" stroke="#ff0000" stroke-width="2.7" stroke-linejoin="miter" stroke-miterlimit="3"/>
<polyline id="blue" points="305.0,2917.0 307.5,2917.5 311.5,2924.2 1188.0,2924.2 1190.0,2921.5 1199.0,2921.5 1202.0,2924.2 1867.4,2924.2" fill="none" stroke="#0073c1" stroke-width="2.9"/>
<text transform="translate(304.5 3111.5) scale(0.97 1)" font-size="48.5" text-anchor="middle" fill="#262626" font-family='"Liberation Sans", Arial, Helvetica, sans-serif' >0</text>
<text transform="translate(460.8 3111.5) scale(0.97 1)" font-size="48.5" text-anchor="middle" fill="#262626" font-family='"Liberation Sans", Arial, Helvetica, sans-serif' >50</text>
<text transform="translate(617.1 3111.5) scale(0.97 1)" font-size="48.5" text-anchor="middle" fill="#262626" font-family='"Liberation Sans", Arial, Helvetica, sans-serif' >100</text>
<text transform="translate(773.4 3111.5) scale(0.97 1)" font-size="48.5" text-anchor="middle" fill="#262626" font-family='"Liberation Sans", Arial, Helvetica, sans-serif' >150</text>
<text transform="translate(929.7 3111.5) scale(0.97 1)" font-size="48.5" text-anchor="middle" fill="#262626" font-family='"Liberation Sans", Arial, Helvetica, sans-serif' >200</text>
<text transform="translate(1086.0 3111.5) scale(0.97 1)" font-size="48.5" text-anchor="middle" fill="#262626" font-family='"Liberation Sans", Arial, Helvetica, sans-serif' >250</text>
<text transform="translate(1242.2 3111.5) scale(0.97 1)" font-size="48.5" text-anchor="middle" fill="#262626" font-family='"Liberation Sans", Arial, Helvetica, sans-serif' >300</text>
<text transform="translate(1398.5 3111.5) scale(0.97 1)" font-size="48.5" text-anchor="middle" fill="#262626" font-family='"Liberation Sans", Arial, Helvetica, sans-serif' >350</text>
<text transform="translate(1554.8 3111.5) scale(0.97 1)" font-size="48.5" text-anchor="middle" fill="#262626" font-family='"Liberation Sans", Arial, Helvetica, sans-serif' >400</text>
<text transform="translate(1711.1 3111.5) scale(0.97 1)" font-size="48.5" text-anchor="middle" fill="#262626" font-family='"Liberation Sans", Arial, Helvetica, sans-serif' >450</text>
<text transform="translate(1867.4 3111.5) scale(0.97 1)" font-size="48.5" text-anchor="middle" fill="#262626" font-family='"Liberation Sans", Arial, Helvetica, sans-serif' >500</text>
<text transform="translate(283.0 3054.9) scale(0.97 1)" font-size="48.5" text-anchor="end" fill="#262626" font-family='"Liberation Sans", Arial, Helvetica, sans-serif' >-2</text>
<text transform="translate(283.0 2931.8) scale(0.97 1)" font-size="48.5" text-anchor="end" fill="#262626" font-family='"Liberation Sans", Arial, Helvetica, sans-serif' >0</text>
<text transform="translate(283.0 2808.7) scale(0.97 1)" font-size="48.5" text-anchor="end" fill="#262626" font-family='"Liberation Sans", Arial, Helvetica, sans-serif' >2</text>
<text transform="translate(283.0 2685.5) scale(0.97 1)" font-size="48.5" text-anchor="end" fill="#262626" font-family='"Liberation Sans", Arial, Helvetica, sans-serif' >4</text>
<text transform="translate(283.0 2562.4) scale(0.97 1)" font-size="48.5" text-anchor="end" fill="#262626" font-family='"Liberation Sans", Arial, Helvetica, sans-serif' >6</text>
<text transform="translate(283.0 2439.3) scale(0.97 1)" font-size="48.5" text-anchor="end" fill="#262626" font-family='"Liberation Sans", Arial, Helvetica, sans-serif' >8</text>
<text transform="translate(283.0 2316.2) scale(0.97 1)" font-size="48.5" text-anchor="end" fill="#262626" font-family='"Liberation Sans", Arial, Helvetica, sans-serif' >10</text>
<text transform="translate(283.0 2193.1) scale(0.97 1)" font-size="48.5" text-anchor="end" fill="#262626" font-family='"Liberation Sans", Arial, Helvetica, sans-serif' >12</text>
<text transform="translate(283.0 2069.9) scale(0.97 1)" font-size="48.5" text-anchor="end" fill="#262626" font-family='"Liberation Sans", Arial, Helvetica, sans-serif' >14</text>
<text transform="translate(283.0 1946.8) scale(0.97 1)" font-size="48.5" text-anchor="end" fill="#262626" font-family='"Liberation Sans", Arial, Helvetica, sans-serif' >16</text>
<text transform="translate(283.0 1823.7) scale(0.97 1)" font-size="48.5" text-anchor="end" fill="#262626" font-family='"Liberation Sans", Arial, Helvetica, sans-serif' >18</text>
<text font-family='"Liberation Sans", Arial, Helvetica, sans-serif'><tspan x="321.0" y="1800.0" font-size="61" text-anchor="middle" fill="#777777" >×</tspan><tspan x="344.5" y="1794.0" font-size="50.5" text-anchor="start" fill="#262626" letter-spacing="-3.5">10</tspan><tspan x="396.5" y="1770.0" font-size="39" text-anchor="start" fill="#262626" letter-spacing="0">7</tspan></text>
<text transform="translate(1087.0 3180.0) scale(0.97 1)" font-size="53" text-anchor="middle" fill="#262626" font-family='"Liberation Sans", Arial, Helvetica, sans-serif' >Generations</text>
<text transform="translate(203 2421) rotate(-90)" font-size="53" text-anchor="middle" fill="#262626" font-family='"Liberation Sans", Arial, Helvetica, sans-serif'>f(x)</text>
</g>
</svg>
</body>
</html>
